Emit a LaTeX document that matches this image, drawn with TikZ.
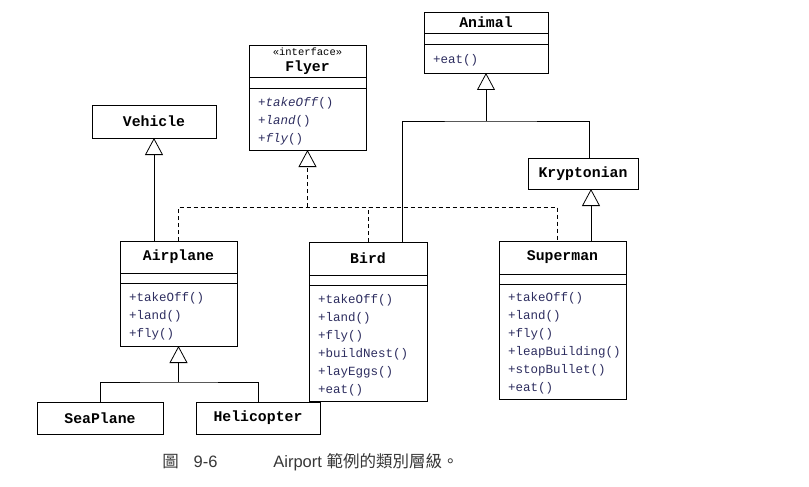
\documentclass[tikz,border=0pt]{standalone}
\usepackage{fontspec}
\setmainfont{Liberation Sans}
\setmonofont{Liberation Mono}
\newfontfamily\cjkfont{Noto Sans CJK TC}
\usetikzlibrary{positioning,calc,arrows.meta}
\definecolor{optext}{RGB}{45,45,95}
\definecolor{captext}{RGB}{55,55,55}
\tikzstyle{classname} = [draw,font=\ttfamily\bfseries\fontsize{14.8}{16}\selectfont,inner sep=0pt,outer sep=0pt]
\tikzstyle{classattr} = [draw,inner sep=0pt,outer sep=0pt,minimum height=10pt]
\tikzstyle{classops} = [draw,font=\ttfamily\fontsize{12.5}{18}\selectfont,text=optext,align=left,execute at begin node={\rule{0pt}{13pt}},inner xsep=9pt,inner ysep=0pt,outer sep=0pt]
\tikzstyle{extends} = [-{Triangle[open,width=18pt,length=17pt]}]
\tikzstyle{realizes} = [dash pattern=on 4pt off 3pt]

\begin{document}
\begin{tikzpicture}[x=1pt,y=-1pt,line width=0.8pt]
\useasboundingbox (0,0) rectangle (809,487);
\foreach \name/\txt/\x/\y/\w/\h in {vehicle/Vehicle/154/121.5/124/33,kryptonian/Kryptonian/583/173.5/110/31,seaplane/SeaPlane/100/418/126/32,helicopter/Helicopter/258/418/124/32} {
	\node[classname,minimum width=\w pt,minimum height=\h pt] (\name) at (\x,\y) {\txt};
}

\node[classname,minimum width=124pt,minimum height=21pt] (animal) at (486,22.5) {Animal};
\node[classattr,minimum width=124pt,minimum height=11pt,below=0pt of animal] (animal-attr) {};
\node[classops,text width=106pt,minimum height=29pt,below=0pt of animal-attr] (animal-ops) {+eat()};

\node[classname,align=center,minimum width=117pt,minimum height=32pt] (flyer) at (307.5,61) {{\mdseries\fontsize{10.5}{12}\selectfont «interface»}\\[0pt]Flyer};
\node[classattr,minimum width=117pt,minimum height=11pt,below=0pt of flyer] (flyer-attr) {};
\node[classops,text width=99pt,minimum height=62pt,below=0pt of flyer-attr] (flyer-ops) {+\textit{takeOff}()\\+\textit{land}()\\+\textit{fly}()};

\node[classname,minimum width=117pt,minimum height=32pt] (airplane) at (178.5,257) {Airplane};
\node[classattr,minimum width=117pt,below=0pt of airplane] (airplane-attr) {};
\node[classops,text width=99pt,minimum height=63pt,below=0pt of airplane-attr] (airplane-ops) {+takeOff()\\+land()\\+fly()};

\node[classname,minimum width=118pt,minimum height=33pt] (bird) at (368,258.5) {Bird};
\node[classattr,minimum width=118pt,below=0pt of bird] (bird-attr) {};
\node[classops,text width=100pt,minimum height=116pt,below=0pt of bird-attr] (bird-ops) {+takeOff()\\+land()\\+fly()\\+buildNest()\\+layEggs()\\+eat()};

\node[classname,minimum width=127pt,minimum height=33pt] (superman) at (562.5,257.5) {Superman};
\node[classattr,minimum width=127pt,below=0pt of superman] (superman-attr) {};
\node[classops,text width=109pt,minimum height=115pt,below=0pt of superman-attr] (superman-ops) {+takeOff()\\+land()\\+fly()\\+leapBuilding()\\+stopBullet()\\+eat()};

% generalization
\draw[extends] (vehicle.south |- airplane.north) -- (vehicle.south);
\coordinate (animalfork) at ($(animal-ops.south)+(0,48)$);
\coordinate (birdtop) at ($(bird.north)+(34,0)$);
\coordinate (kryptontop) at ($(kryptonian.north)+(6,0)$);
\draw (birdtop) |- (animalfork) -| (kryptontop);
\draw[extends] (animalfork) -- (animal-ops.south);
\coordinate (kryptonbottom) at ($(kryptonian.south)+(8,0)$);
\draw[extends] (superman.north -| kryptonbottom) -- (kryptonbottom);
\coordinate (airfork) at ($(airplane-ops.south)+(0,36)$);
\draw (seaplane.north) |- (airfork) -| (helicopter.north);
\draw[extends] (airfork) -- (airplane-ops.south);

% realization
\coordinate (flyerfork) at ($(flyer-ops.south)+(0,57)$);
\coordinate (supertop) at ($(superman.north)+(-5.5,0)$);
\draw[realizes] (airplane.north) |- (flyerfork -| supertop) -- (supertop);
\draw[realizes] (bird.north) -- (bird.north |- flyerfork);
\draw[realizes,extends] (flyerfork) -- (flyer-ops.south);

\node[anchor=west,inner sep=0pt,text=captext,font=\fontsize{16.5}{18}\selectfont] (fignum) at (162,462) {\cjkfont 圖};
\node[right=14pt of fignum,inner sep=0pt,text=captext,font=\fontsize{16.5}{18}\selectfont] (figno) {9-6};
\node[anchor=west,inner sep=0pt,text=captext,font=\fontsize{16.5}{18}\selectfont] (caption) at (273,462) {Airport {\cjkfont 範例的類別層級。}};
\end{tikzpicture}
\end{document}
